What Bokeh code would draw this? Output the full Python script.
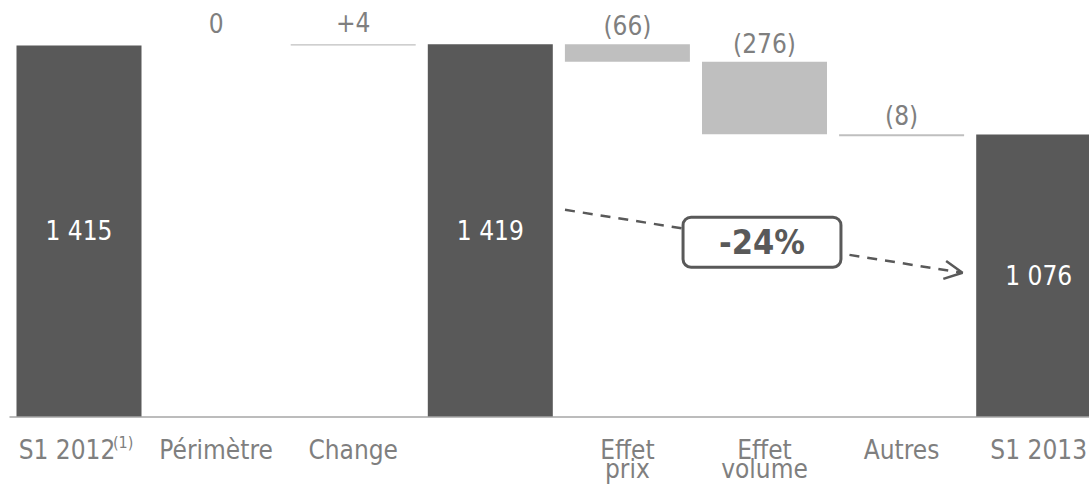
from bokeh.plotting import figure
from bokeh.models import Range1d, Label, Arrow, OpenHead, ColumnDataSource
from bokeh.core.properties import value
from bokeh.embed import file_html
from bokeh.resources import INLINE

# ---------------- data ----------------
categories = ["S1 2012", "Périmètre", "Change", "", "Effet\nprix", "Effet\nvolume", "Autres", "S1 2013"]
kinds = ["total", "delta", "delta", "total", "delta", "delta", "delta", "total"]
values = [1415, 0, 4, 1419, -66, -276, -8, 1076]
value_labels = ["1 415", "0", "+4", "1 419", "(66)", "(276)", "(8)", "1 076"]
footnote = "(1)"
change_pct = "-24%"

# ---------------- style / layout ----------------
FONT = "DejaVu Sans Condensed"
FS = "26px"
DARK = "#595959"
LIGHT = "#bfbfbf"
GREY_TXT = "#7f7f7f"
STEP = 137.1      # px per category
YS = 0.2626       # px per unit
PX = 1.0 / YS     # units per px
W, H = 1089, 492
BASE_PX = 416.5   # baseline pixel row

# waterfall geometry
bottoms, tops, colors = [], [], []
level = 0
for k, v in zip(kinds, values):
    if k == "total":
        b, t = 0, v
        level = v
        colors.append(DARK)
    else:
        b, t = (level, level + v) if v >= 0 else (level + v, level)
        level += v
        colors.append(LIGHT)
    bottoms.append(b)
    tops.append(t)

idx = list(range(len(categories)))

p = figure(width=W, height=H, output_backend="svg", toolbar_location=None,
           x_range=Range1d(-78.5 / STEP, (W - 78.5) / STEP),
           y_range=Range1d(-(H - BASE_PX) * PX, BASE_PX * PX),
           min_border=0, min_border_left=0, min_border_right=0,
           min_border_top=0, min_border_bottom=0)
p.axis.visible = False
p.grid.visible = False
p.outline_line_color = None
p.background_fill_color = "white"
p.border_fill_color = "white"

src = ColumnDataSource(dict(x=idx, bottom=bottoms, top=tops, color=colors))
p.vbar(x="x", bottom="bottom", top="top", width=125 / STEP, fill_color="color",
       line_color=None, source=src)

# baseline
p.segment(x0=[-69.5 / STEP], y0=[0], x1=[(W - 78.5) / STEP + 1], y1=[0],
          line_color="#a6a6a6", line_width=1.5)

# values inside total bars
tot = [i for i in idx if kinds[i] == "total"]
p.text(x=tot, y=[tops[i] / 2 for i in tot], text=[value_labels[i] for i in tot],
       text_align="center", text_baseline="middle", text_color="white",
       text_font=value(FONT), text_font_size=FS)

# values above deltas
dl = [i for i in idx if kinds[i] == "delta"]
p.text(x=dl, y=[tops[i] + (22 if values[i] >= 0 else 18) * PX for i in dl],
       text=[value_labels[i] for i in dl],
       text_align="center", text_baseline="middle", text_color=GREY_TXT,
       text_font=value(FONT), text_font_size=FS)

# category labels (two lines possible)
line1 = [c.split("\n")[0] for c in categories]
two = [i for i in idx if "\n" in categories[i]]
line2 = [categories[i].split("\n")[1] for i in two]
xoff = [-12 if i == 0 else 0 for i in idx]
p.text(x=idx, y=[-32.5 * PX] * len(idx), text=line1, x_offset=xoff,
       text_align="center", text_baseline="middle", text_color=GREY_TXT,
       text_font=value(FONT), text_font_size=FS)
p.text(x=two, y=[-51.5 * PX] * len(two), text=line2,
       text_align="center", text_baseline="middle", text_color=GREY_TXT,
       text_font=value(FONT), text_font_size=FS)
# footnote superscript
p.text(x=[0], y=[-25.5 * PX], text=[footnote], x_offset=[34],
       text_align="left", text_baseline="middle", text_color=GREY_TXT,
       text_font=value(FONT), text_font_size="16px")

# dashed arrow and percentage box
arrow = Arrow(end=OpenHead(size=18, line_color=DARK, line_width=2.5),
              x_start=(564.5 - 78.5) / STEP, y_start=(BASE_PX - 209.3) * PX,
              x_end=(962 - 78.5) / STEP, y_end=(BASE_PX - 272.3) * PX,
              line_color=DARK, line_width=2.5, line_dash="10 8")
p.add_layout(arrow)
box = Label(x=(761.5 - 78.5) / STEP, y=(BASE_PX - 241.7) * PX, text=change_pct,
            text_align="center", text_baseline="middle", text_color=DARK,
            text_font=FONT, text_font_size="34px", text_font_style="bold",
            background_fill_color="white", border_line_color=DARK,
            border_line_width=3, border_radius=8,
            padding=dict(left=36, right=36, top=5, bottom=5))
p.add_layout(box)

open("out.html", "w").write(file_html(p, INLINE))
